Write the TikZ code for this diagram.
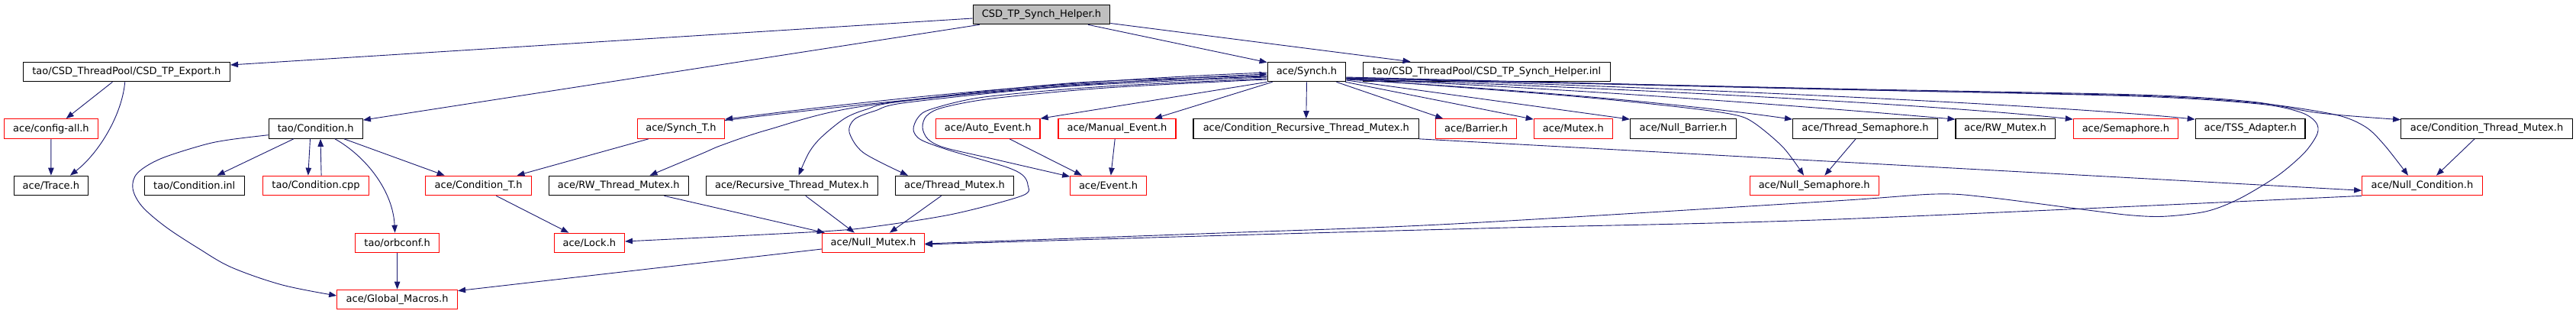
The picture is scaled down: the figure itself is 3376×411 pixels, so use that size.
\documentclass[tikz,border=0pt]{standalone}
\usepackage{fontspec}
\setmainfont{DejaVu Sans}
\usetikzlibrary{arrows.meta}
\definecolor{edgec}{HTML}{191970}
\definecolor{redc}{HTML}{FF0000}
\definecolor{grayc}{HTML}{BFBFBF}
\begin{document}
\begin{tikzpicture}[x=1pt,y=-1pt,
  bbox/.style={draw=black,line width=1.2pt,rectangle,minimum height=25.5pt,inner sep=0pt,font=\fontsize{13}{15}\selectfont,text=black},
  rbox/.style={bbox,draw=redc},
  gbox/.style={bbox,fill=grayc},
  edge/.style={draw=edgec,line width=0.9pt,-{Triangle[length=10pt,width=7.5pt]}},
  smoothedge/.style={edge}
]
\useasboundingbox[fill=white] (0,0) rectangle (3376,411);
% row 1
\node[gbox,minimum width=179.4pt] (helper) at (1365,19) {CSD\_TP\_Synch\_Helper.h};
% row 2
\node[bbox,minimum width=271pt] (export) at (165.9,94) {tao/CSD\_ThreadPool/CSD\_TP\_Export.h};
\node[bbox,minimum width=102.5pt] (synch) at (1712.45,94) {ace/Synch.h};
\node[bbox,minimum width=324.2pt] (inl) at (1948.5,94) {tao/CSD\_ThreadPool/CSD\_TP\_Synch\_Helper.inl};
% row 3
\node[rbox,minimum width=123.1pt] (configall) at (66.95,168.5) {ace/config-all.h};
\node[bbox,minimum width=123pt] (tcond) at (413.8,168.5) {tao/Condition.h};
\node[rbox,minimum width=114pt] (syncht) at (892.5,168.5) {ace/Synch\_T.h};
\node[rbox,minimum width=136.4pt] (autoev) at (1294.8,168.5) {ace/Auto\_Event.h};
\node[rbox,minimum width=154pt] (manev) at (1464,168.5) {ace/Manual\_Event.h};
\node[bbox,minimum width=295.6pt] (crtm) at (1711.8,168.5) {ace/Condition\_Recursive\_Thread\_Mutex.h};
\node[rbox,minimum width=105.7pt] (barrier) at (1934.65,168.5) {ace/Barrier.h};
\node[rbox,minimum width=103pt] (mutex) at (2061.8,168.5) {ace/Mutex.h};
\node[bbox,minimum width=138.7pt] (nbarrier) at (2205.95,168.5) {ace/Null\_Barrier.h};
\node[bbox,minimum width=189.8pt] (tsem) at (2444.5,168.5) {ace/Thread\_Semaphore.h};
\node[bbox,minimum width=130.1pt] (rwmutex) at (2628.05,168.5) {ace/RW\_Mutex.h};
\node[rbox,minimum width=136.9pt] (sem) at (2785.85,168.5) {ace/Semaphore.h};
\node[bbox,minimum width=143.7pt] (tss) at (2949.15,168.5) {ace/TSS\_Adapter.h};
\node[bbox,minimum width=224.7pt] (ctm) at (3259.05,168.5) {ace/Condition\_Thread\_Mutex.h};
% row 4
\node[bbox,minimum width=97pt] (trace) at (66.9,243) {ace/Trace.h};
\node[bbox,minimum width=131.1pt] (cinl) at (254.75,243) {tao/Condition.inl};
\node[rbox,minimum width=138.8pt] (ccpp) at (414.1,243) {tao/Condition.cpp};
\node[rbox,minimum width=138.8pt] (condt) at (627.1,243) {ace/Condition\_T.h};
\node[bbox,minimum width=183.2pt] (rwtm) at (810.8,243) {ace/RW\_Thread\_Mutex.h};
\node[bbox,minimum width=224.4pt] (rtm) at (1037.9,243) {ace/Recursive\_Thread\_Mutex.h};
\node[bbox,minimum width=155.1pt] (tm) at (1250.95,243) {ace/Thread\_Mutex.h};
\node[rbox,minimum width=99.7pt] (event) at (1452.55,243) {ace/Event.h};
\node[rbox,minimum width=169pt] (nsem) at (2377.7,243) {ace/Null\_Semaphore.h};
\node[rbox,minimum width=157.4pt] (ncond) at (3174.4,243) {ace/Null\_Condition.h};
% row 5
\node[rbox,minimum width=110pt] (orbconf) at (520.6,318) {tao/orbconf.h};
\node[rbox,minimum width=92.1pt] (lock) at (772.35,318) {ace/Lock.h};
\node[rbox,minimum width=133.9pt] (nmutex) at (1144.45,318) {ace/Null\_Mutex.h};
% row 6
\node[rbox,minimum width=157.8pt] (gmacros) at (520.6,392) {ace/Global\_Macros.h};

% edges from helper
\draw[edge] ([yshift=-5pt]helper.west) -- ([yshift=9pt]export.east);
\draw[edge] ([xshift=9pt]helper.south west) -- ([yshift=-2pt]tcond.north east);
\draw[edge] ([xshift=61pt]helper.south) -- ([yshift=-1pt]synch.north west);
\draw[edge] ([yshift=-11.5pt]helper.east) -- ([xshift=-100pt]inl.north);
% export
\draw[edge] ([xshift=-18.5pt]export.south) -- ([xshift=19.75pt]configall.north);
\draw[edge] ([xshift=-2.2pt]export.south) .. controls (160,150) and (130,200) .. ([xshift=25pt]trace.north);
\draw[edge] (configall.south) -- (trace.north);
% tao/Condition.h
\draw[edge] plot[smooth,tension=0.55] coordinates {([yshift=-8.2pt]tcond.west) (300,183) (265.6,190) (210,208) (180,226.7) (174,246.7) (186,270) (216.8,296.7) (260,325) (303.5,350) (370,373) ([yshift=5pt]gmacros.west)};
\draw[edge] ([xshift=-29pt]tcond.south) -- ([xshift=29.85pt]cinl.north);
\draw[edge] ([xshift=-7.3pt]tcond.south) -- ([xshift=-10.3pt]ccpp.north);
\draw[edge] ([xshift=7pt]ccpp.north) -- ([xshift=6.2pt]tcond.south);
\draw[edge] ([xshift=25.2pt]tcond.south) .. controls (480,205) and (515,250) .. ([xshift=-3pt]orbconf.north);
\draw[edge] ([xshift=37.2pt]tcond.south) -- ([xshift=-44.4pt]condt.north);
\draw[edge] (orbconf.south) -- (gmacros.north);
\draw[edge] ([xshift=-42.6pt]syncht.south) -- ([xshift=50.4pt]condt.north);
\draw[edge] ([xshift=23.3pt]condt.south) -- ([xshift=-27pt]lock.north);
% synch.h left bundle
\draw[edge] ([yshift=-1pt]synch.west) .. controls (1400,105) and (1150,130) .. ([yshift=-1pt]syncht.north east);
\draw[edge] ([yshift=-2.5pt]syncht.north east) .. controls (1150,133) and (1400,108) .. ([yshift=-3pt]synch.west);
\draw[edge] plot[smooth] coordinates {([yshift=-5pt]synch.west) (1400,109) (1125,140) (1006,170) (946,190) (920,201) ([xshift=40.7pt]rwtm.north)};
\draw[edge] plot[smooth] coordinates {([yshift=-6pt]synch.west) (1400,111) (1180,133) (1136,143) (1107,155) (1076,180) (1060,200) ([xshift=8.7pt]rtm.north)};
\draw[edge] plot[smooth] coordinates {([yshift=-7pt]synch.west) (1400,113) (1190,134) (1147,145) (1120,156) (1113,173) (1131.7,200) ([xshift=-61pt]tm.north)};
\draw[edge] plot[smooth] coordinates {([yshift=-9pt]synch.west) (1450,113) (1290,127) (1220,143) (1203,154) (1197,170) (1207,183) (1245,197) (1317,218) (1340,229) (1347,242) (1340,256) (1250,280) (1150,296) (1077,303) ([yshift=2pt]lock.east)};
\draw[edge] plot[smooth] coordinates {([yshift=-10pt]synch.west) (1450,115) (1300,129) (1235,141) (1214,152) (1209,167) (1216,182) (1237,193) (1297,207) ([yshift=-1.5pt]event.north west)};
\draw[edge] (synch.south west) -- (autoev.north east);
\draw[edge] ([xshift=7pt]synch.south west) -- ([xshift=49pt]manev.north);
\draw[edge] ([xshift=28.2pt]autoev.south) -- ([xshift=-34.6pt]event.north);
\draw[edge] ([xshift=-2.8pt]manev.south) -- ([xshift=3.3pt]event.north);
\draw[edge] ([xshift=59.7pt]rwtm.south) -- ([xshift=4pt]nmutex.north west);
\draw[edge] ([xshift=17.9pt]rtm.south) -- ([xshift=-24.6pt]nmutex.north);
\draw[edge] ([xshift=-17.35pt]tm.south) -- ([xshift=21.5pt]nmutex.north);
\draw[edge] ([yshift=-8pt]nmutex.west) -- ([yshift=-2pt]gmacros.north east);
% synch.h down and right
\draw[edge] (synch.south) -- (crtm.north);
\draw[edge] ([xshift=39pt]synch.south) -- ([xshift=10pt]barrier.north west);
\draw[edge] ([xshift=-1pt]synch.south east) -- ([yshift=-1pt]mutex.north west);
\draw[edge] ([yshift=-11pt]synch.east) -- ([yshift=-1pt]nbarrier.north west);
\draw[edge] ([yshift=-10pt]synch.east) .. controls (2000,118) and (2200,135) .. ([yshift=-1pt]tsem.north west);
\draw[edge] ([yshift=-9pt]synch.east) .. controls (2100,118) and (2400,142) .. ([yshift=-1pt]rwmutex.north west);
\draw[edge] ([yshift=-9pt]synch.east) .. controls (2150,116) and (2550,138) .. ([yshift=-1pt]sem.north west);
\draw[edge] ([yshift=-8pt]synch.east) .. controls (2200,114) and (2700,138) .. ([yshift=-1pt]tss.north west);
\draw[edge] plot[smooth] coordinates {([yshift=-8pt]synch.east) (2400,116) (2800,124) (2950,133) (3040,148) ([yshift=-1.5pt]ctm.north west)};
\draw[edge] plot[smooth] coordinates {([yshift=-8pt]synch.east) (2400,117) (2800,125) (2960,135) (3060,150) (3100,166) (3125,190) ([xshift=-18.4pt]ncond.north)};
\draw[edge] plot[smooth] coordinates {([yshift=-9pt]synch.east) (2050,125) (2200,140) (2272,150) (2299,161) (2337,193) ([xshift=-13.7pt]nsem.north)};
\draw[edge] plot[smooth,tension=0.5] coordinates {([yshift=-7pt]synch.east) (2400,116.7) (2800,126) (2960,136) (3015,147) (3035,160) (3037,175) (3020,200) (2985,230) (2935,260) (2891.6,276.7) (2835.6,283.3) (2792,281.7) (2736,275) (2605.4,258.3) (2537,254) (2400,263.3) (1900,293.3) (1600,305) ([yshift=-1pt]nmutex.east)};
\draw[edge] ([xshift=-12.5pt]tsem.south) -- ([xshift=13.6pt]nsem.north);
\draw[edge] ([xshift=-16pt]ctm.south) -- ([xshift=18.6pt]ncond.north);
\draw[edge] (crtm.south east) -- ([yshift=-6.3pt]ncond.west);
\draw[edge] plot[smooth] coordinates {(ncond.south west) (2400,287.3) (1966,298.3) (1600,308.3) ([yshift=-2pt]nmutex.east)};
\end{tikzpicture}
\end{document}
